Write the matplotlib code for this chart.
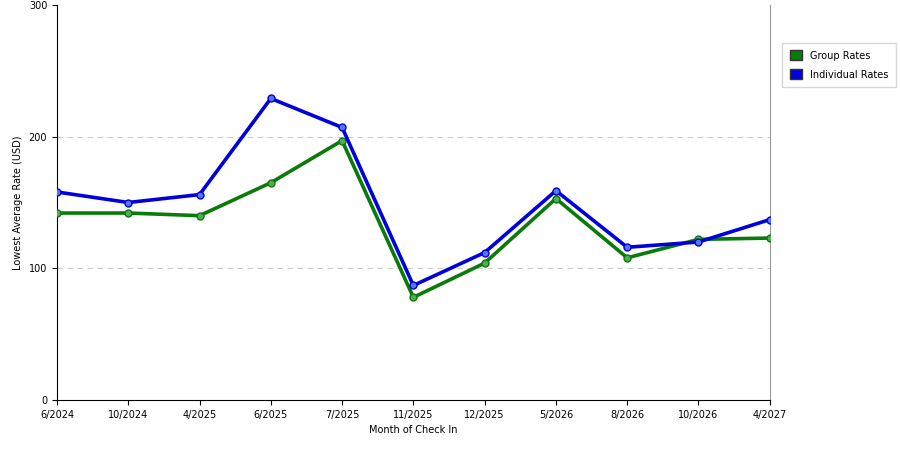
import matplotlib
matplotlib.use("Agg")
import matplotlib.pyplot as plt
from matplotlib.patches import Patch

months = ["6/2024","10/2024","4/2025","6/2025","7/2025","11/2025","12/2025","5/2026","8/2026","10/2026","4/2027"]
group = [142,142,140,165,197,78,104,153,108,122,123]
individual = [158,150,156,229,207,87,112,159,116,120,137]

fig = plt.figure(figsize=(9,4.5), dpi=100)
ax = fig.add_axes([0.0633,0.111,0.792,0.878])
x = list(range(len(months)))
ax.plot(x, group, color="#0a7a0a", lw=2.6, marker="o", ms=5, mfc="#55aa55", mec="#0a7a0a", zorder=3)
ax.plot(x, individual, color="#0000dd", lw=2.6, marker="o", ms=5, mfc="#5577ee", mec="#0000dd", zorder=4)
ax.set_xlim(0, len(months)-1)
ax.set_ylim(0, 300)
ax.set_xticks(x)
ax.set_xticklabels(months, fontsize=7)
ax.set_yticks([0,100,200,300])
ax.tick_params(axis="y", labelsize=7)
for v in (100,200):
    ax.axhline(v, color="#cccccc", ls=(0,(5,4)), lw=0.8, zorder=1)
ax.spines["top"].set_visible(False)
ax.spines["right"].set_color("#999999")
ax.set_xlabel("Month of Check In", fontsize=7)
ax.set_ylabel("Lowest Average Rate (USD)", fontsize=7)
handles = [Patch(facecolor="#0a7a0a", edgecolor="#333333", label="Group Rates"),
           Patch(facecolor="#0000dd", edgecolor="#333333", label="Individual Rates")]
fig.legend(handles=handles, loc="upper left", bbox_to_anchor=(0.864,0.916), fontsize=7,
           frameon=True, fancybox=False, edgecolor="#cccccc", handlelength=1.2, handleheight=1.2,
           labelspacing=0.9, borderpad=0.8)
fig.savefig("out.png")
